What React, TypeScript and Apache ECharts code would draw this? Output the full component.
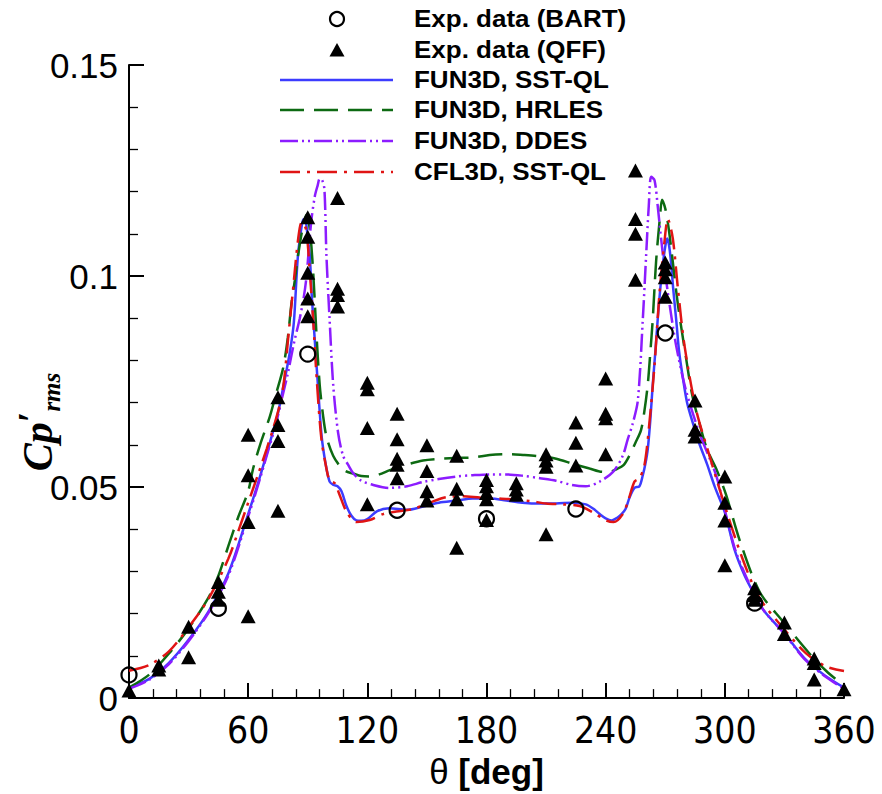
import React, { useEffect, useRef } from "react";
import * as echarts from "echarts";

// ---------- axes ----------
const xTicks = [0, 60, 120, 180, 240, 300, 360];
const yTicks = [0, 0.05, 0.1, 0.15];
const yTickLabels = ["0", "0.05", "0.1", "0.15"];

// ---------- legend names ----------
const nameBart = "Exp. data (BART)";
const nameQff = "Exp. data (QFF)";
const nameSst = "FUN3D, SST-QL";
const nameHrles = "FUN3D, HRLES";
const nameDdes = "FUN3D, DDES";
const nameCfl = "CFL3D, SST-QL";

// ---------- experimental data ----------
const bartTheta = [0, 45, 90, 135, 180, 225, 270, 315];
const bartCp = [0.0055, 0.0213, 0.0815, 0.0445, 0.0425, 0.0448, 0.0865, 0.0225];

const qffTheta = [
  0, 15, 15, 30, 30, 45, 45, 45, 60, 60, 60, 60, 75, 75, 75, 75,
  90, 90, 90, 90, 90, 105, 105, 105, 105, 120, 120, 120, 120,
  135, 135, 135, 135, 135, 150, 150, 150, 150, 165, 165, 165, 165,
  180, 180, 180, 180, 180, 195, 195, 195, 210, 210, 210, 210,
  225, 225, 225, 240, 240, 240, 240, 255, 255, 255, 255,
  270, 270, 270, 270, 285, 285, 285, 300, 300, 300, 300,
  315, 315, 315, 330, 330, 345, 345, 345, 360,
];
const qffCp = [
  0.0018, 0.0077, 0.0068, 0.0097, 0.0169, 0.0275, 0.0252, 0.0233, 0.0194, 0.0417, 0.0528, 0.0624, 0.0444, 0.0609, 0.0647, 0.0713,
  0.0905, 0.0947, 0.1008, 0.1093, 0.1139, 0.1185, 0.097, 0.0955, 0.0928, 0.0747, 0.0732, 0.064, 0.0459,
  0.0674, 0.0613, 0.0567, 0.0553, 0.0521, 0.0599, 0.0538, 0.049, 0.0468, 0.0574, 0.0496, 0.0471, 0.0356,
  0.0517, 0.0502, 0.0486, 0.0471, 0.0422, 0.0509, 0.0494, 0.0482, 0.0578, 0.0563, 0.0548, 0.0388,
  0.0653, 0.0605, 0.0551, 0.0757, 0.0674, 0.0663, 0.0578, 0.125, 0.1135, 0.11, 0.0991,
  0.1032, 0.1016, 0.0997, 0.0951, 0.0705, 0.0636, 0.062, 0.0525, 0.0463, 0.0421, 0.0315,
  0.026, 0.0244, 0.0233, 0.0179, 0.0152, 0.0094, 0.0083, 0.0044, 0.0021,
];

// ---------- FUN3D SST-QL ----------
const sstTheta = [
  0, 10, 20, 30, 40, 50, 60, 65, 70, 75, 78, 81, 83, 85, 87, 88, 89, 90, 91, 92, 93, 95, 97, 99, 101, 103, 105, 107,
  109.5, 112, 114.5, 117, 120, 125, 131, 140, 148, 156, 165, 173, 182, 190, 198, 207, 215, 223, 230, 234, 237, 240,
  243, 246, 248, 250, 252, 254.5, 257, 258.7, 260, 261.2, 262.5, 263.7, 265, 266.2, 267.5, 268.8, 270, 271, 272, 273,
  274, 275.5, 277, 279, 281, 284, 287, 291, 295, 300, 305, 310, 315, 320, 330, 340, 350, 360,
];
const sstCp = [
  0.0025, 0.0045, 0.0083, 0.0138, 0.0205, 0.0295, 0.0436, 0.051, 0.059, 0.0675, 0.0745, 0.082, 0.089, 0.1045, 0.112, 0.1135, 0.113, 0.109, 0.105, 0.0955, 0.0885, 0.075, 0.062, 0.0555, 0.0513, 0.0505, 0.0502, 0.049,
  0.0455, 0.0432, 0.0421, 0.042, 0.0424, 0.0443, 0.045, 0.0446, 0.0454, 0.0463, 0.0468, 0.0473, 0.0473, 0.0468, 0.0463, 0.0461, 0.0461, 0.0463, 0.0459, 0.0448, 0.0436, 0.0426,
  0.0421, 0.0428, 0.0436, 0.0448, 0.0475, 0.0498, 0.0502, 0.0528, 0.0555, 0.059, 0.066, 0.0743, 0.082, 0.0897, 0.097, 0.1028, 0.107, 0.1089, 0.107, 0.1028,
  0.097, 0.0897, 0.082, 0.0755, 0.07, 0.065, 0.0605, 0.0555, 0.05, 0.044, 0.035, 0.029, 0.0245, 0.0205, 0.0153, 0.0095, 0.0055, 0.0025,
];

// ---------- FUN3D HRLES ----------
const hrlesTheta = [
  0, 10, 20, 30, 40, 45, 50, 55, 60, 62.5, 66, 70.9, 74, 77.6, 80, 81.8, 83.5, 85.2, 87.7, 89.4, 91, 92.7, 94.3, 96, 97.7,
  99.4, 102.8, 106, 109, 112.8, 117, 121.2, 126, 131.3, 139.7, 148, 156.4, 164.8, 173.2, 181.6, 190, 198.4, 206.7, 215.1,
  223.5, 231.9, 238.6, 242, 245.3, 249, 252, 255, 257.8, 259.5, 261.2, 262.5, 263.7, 265.4, 267.4, 268.4, 270.1, 271.5,
  273, 276.3, 280.5, 283.5, 287.2, 291, 295.6, 300.6, 307.4, 317.5, 329, 344, 352, 360,
];
const hrlesCp = [
  0.0025, 0.0055, 0.0105, 0.0165, 0.0238, 0.029, 0.036, 0.0429, 0.049, 0.0544, 0.06, 0.0667, 0.072, 0.0782, 0.0855, 0.0935, 0.099, 0.1051, 0.112, 0.1145, 0.1112, 0.1012, 0.087, 0.0743, 0.067,
  0.062, 0.0574, 0.0551, 0.0538, 0.0532, 0.0526, 0.0525, 0.053, 0.054, 0.0553, 0.0563, 0.0567, 0.0569, 0.057, 0.0576, 0.0578, 0.0576, 0.0573, 0.0567,
  0.0555, 0.0544, 0.0536, 0.0536, 0.0542, 0.0552, 0.0575, 0.0605, 0.0635, 0.068, 0.0743, 0.082, 0.0897, 0.1035, 0.1143, 0.1181, 0.1158, 0.112,
  0.1066, 0.0935, 0.0805, 0.072, 0.0651, 0.059, 0.0544, 0.0482, 0.0375, 0.0252, 0.0183, 0.0098, 0.006, 0.003,
];

// ---------- FUN3D DDES ----------
const ddesTheta = [
  0, 10, 20, 30, 40, 50, 60, 65, 70, 74, 77, 80, 83, 86, 88, 89.4, 91.7, 93.6, 95, 96, 97.2, 98.4, 99.4, 101, 102.8,
  105.3, 107.8, 110.3, 113, 117, 123, 131, 140, 148, 156, 165, 173, 182, 190, 198, 207, 215, 223, 230, 237, 243.7,
  248.6, 251.1, 253.6, 256.2, 258.7, 260.4, 261.7, 262.9, 264.6, 266.2, 267.9, 269.6, 272.1, 275.5, 280.5, 287.2,
  295.6, 300, 305, 310, 315, 320, 330, 340, 350, 360,
];
const ddesCp = [
  0.0022, 0.0043, 0.008, 0.0135, 0.0202, 0.029, 0.043, 0.0505, 0.0585, 0.065, 0.071, 0.077, 0.084, 0.09, 0.095, 0.1, 0.1127, 0.119, 0.1215, 0.123, 0.1228, 0.1205, 0.105, 0.0897, 0.0743,
  0.0628, 0.0574, 0.0553, 0.0532, 0.0515, 0.0505, 0.0498, 0.0502, 0.0512, 0.0519, 0.0525, 0.0528, 0.053, 0.053, 0.0527, 0.0521, 0.0515, 0.0505, 0.0502, 0.0513, 0.0536,
  0.0574, 0.0613, 0.065, 0.0705, 0.0897, 0.1051, 0.1166, 0.1235, 0.1227, 0.1166, 0.1089, 0.102, 0.0935, 0.0835, 0.0728, 0.0628,
  0.0528, 0.0445, 0.0355, 0.0295, 0.0245, 0.0205, 0.0152, 0.0093, 0.0053, 0.0022,
];

// ---------- CFL3D SST-QL ----------
const cflTheta = [
  0, 10, 20, 30, 40, 50, 55, 60.9, 65, 69.3, 73, 76, 78, 80.1, 82.7, 85.2, 86.9, 88, 89.4, 91, 92.7, 94.7, 96.9, 99.4,
  101, 103.6, 106, 109.5, 114.5, 121.2, 127.9, 134.6, 143, 151.4, 159.8, 168.2, 176.6, 185, 193.4, 201.7, 210.1, 218.5,
  226.9, 233.6, 240.3, 244, 248.6, 251.5, 254.5, 257, 259.5, 262, 264.6, 267.1, 269.6, 271.3, 273.8, 276.3, 279.7,
  285.6, 292.3, 299, 309, 317.5, 329, 340.9, 350.9, 360,
];
const cflCp = [
  0.0065, 0.0078, 0.011, 0.0168, 0.0235, 0.033, 0.0395, 0.0475, 0.053, 0.059, 0.0645, 0.0697, 0.075, 0.0851, 0.0974, 0.1089, 0.1127, 0.1125, 0.1104, 0.1012, 0.0897, 0.0743, 0.0613, 0.0544,
  0.0516, 0.0509, 0.0482, 0.0442, 0.0417, 0.0422, 0.0436, 0.0442, 0.0448, 0.0463, 0.0476, 0.0478, 0.0475, 0.0473, 0.0471, 0.0467, 0.0461, 0.0459,
  0.0455, 0.044, 0.0421, 0.0417, 0.0436, 0.047, 0.0513, 0.0521, 0.0551, 0.0651, 0.0789, 0.0959, 0.1081, 0.1135, 0.1089, 0.0974, 0.0835,
  0.0682, 0.0574, 0.047, 0.0329, 0.0237, 0.0168, 0.0106, 0.0075, 0.0064,
];

const pairs = (xs: number[], ys: number[]) => xs.map((x, i) => [x, ys[i]]);

const BLUE = "#3c3cff";
const GREEN = "#0d6a12";
const PURPLE = "#8c1cff";
const RED = "#e01414";

const DASH_GREEN = [24, 10];
const DASH_PURPLE = [18, 4, 2, 4, 2, 4];
const DASH_RED = [20, 7, 3, 7];

export default function App() {
  const ref = useRef<HTMLDivElement>(null);

  useEffect(() => {
    if (!ref.current) return;
    const chart = echarts.init(ref.current, undefined, { renderer: "svg" });

    const lineSeries = (name: string, xs: number[], ys: number[], color: string, dash: any) => ({
      name,
      type: "line",
      data: pairs(xs, ys),
      showSymbol: false,
      smooth: 0.3,
      clip: false,
      z: 2,
      lineStyle: { color, width: 2.5, type: dash },
    });

    const legendY = [19, 50, 80, 110, 141, 172];
    const legendNames = [nameBart, nameQff, nameSst, nameHrles, nameDdes, nameCfl];
    const legendLines = [
      { color: BLUE, dash: "solid" },
      { color: GREEN, dash: DASH_GREEN },
      { color: PURPLE, dash: DASH_PURPLE },
      { color: RED, dash: DASH_RED },
    ];

    const graphic: any[] = [];
    graphic.push({
      type: "circle",
      shape: { cx: 337, cy: legendY[0], r: 7 },
      style: { fill: "none", stroke: "#000", lineWidth: 2.2 },
    });
    graphic.push({
      type: "polygon",
      shape: { points: [[329.5, legendY[1] + 6.5], [344.5, legendY[1] + 6.5], [337, legendY[1] - 7]] },
      style: { fill: "#000" },
    });
    legendLines.forEach((l, i) => {
      graphic.push({
        type: "line",
        shape: { x1: 280, y1: legendY[i + 2], x2: 393, y2: legendY[i + 2] },
        style: { stroke: l.color, lineWidth: 2.5, lineDash: l.dash === "solid" ? null : l.dash },
      });
    });
    legendNames.forEach((n, i) => {
      graphic.push({
        type: "text",
        x: 414,
        y: legendY[i],
        scaleX: 1.13,
        style: {
          text: n,
          font: 'bold 23px "Liberation Sans", Arial, sans-serif',
          fill: "#000",
          align: "left",
          verticalAlign: "middle",
        },
      });
    });
    // y-axis title
    graphic.push({
      type: "text",
      x: 38,
      y: 422,
      rotation: Math.PI / 2,
      style: {
        text: "{c|Cp}{p|′}{s|rms}",
        align: "center",
        verticalAlign: "middle",
        rich: {
          c: { fontFamily: '"Liberation Serif", serif', fontStyle: "italic", fontWeight: "bold", fontSize: 42, lineHeight: 52, verticalAlign: "middle", fill: "#000" },
          p: { fontFamily: '"Liberation Serif", serif', fontWeight: "bold", fontSize: 38, lineHeight: 52, verticalAlign: "top", fill: "#000" },
          s: { fontFamily: '"Liberation Serif", serif', fontStyle: "italic", fontWeight: "bold", fontSize: 25, lineHeight: 52, verticalAlign: "bottom", fill: "#000" },
        },
      },
    });

    chart.setOption({
      animation: false,
      backgroundColor: "#ffffff",
      grid: { left: 129, right: 38, top: 65, bottom: 78, containLabel: false },
      xAxis: {
        type: "value",
        min: xTicks[0],
        max: xTicks[xTicks.length - 1],
        interval: 60,
        name: "{t|θ }{b|[deg]}",
        nameLocation: "middle",
        nameGap: 40,
        nameTextStyle: {
          rich: {
            t: { fontFamily: '"Liberation Sans", Arial, sans-serif', fontSize: 35, color: "#000" },
            b: { fontFamily: '"Liberation Sans", Arial, sans-serif', fontSize: 35, fontWeight: "bold", color: "#000" },
          },
        },
        axisLine: { onZero: false, lineStyle: { color: "#000", width: 2 } },
        axisTick: { inside: true, length: 15, lineStyle: { color: "#000", width: 2 } },
        minorTick: { show: true, splitNumber: 5, length: 9, lineStyle: { color: "#000", width: 1.3 } },
        splitLine: { show: false },
        axisLabel: {
          margin: 14,
          fontSize: 37,
          fontFamily: '"Liberation Sans Narrow", "DejaVu Sans Condensed", "Liberation Sans", sans-serif',
          color: "#000",
          formatter: (v: number) => (xTicks.includes(v) ? String(v) : ""),
        },
      },
      yAxis: {
        type: "value",
        min: yTicks[0],
        max: yTicks[yTicks.length - 1],
        interval: 0.05,
        axisLine: { onZero: false, lineStyle: { color: "#000", width: 2 } },
        axisTick: { inside: true, length: 15, lineStyle: { color: "#000", width: 2 } },
        minorTick: { show: true, splitNumber: 5, length: 9, lineStyle: { color: "#000", width: 1.3 } },
        splitLine: { show: false },
        axisLabel: {
          margin: 11,
          fontSize: 35,
          fontFamily: '"Liberation Sans", Arial, sans-serif',
          color: "#000",
          formatter: (v: number) => {
            const i = yTicks.findIndex((t) => Math.abs(t - v) < 1e-9);
            return i >= 0 ? yTickLabels[i] : "";
          },
        },
      },
      graphic,
      series: [
        lineSeries(nameSst, sstTheta, sstCp, BLUE, "solid"),
        lineSeries(nameHrles, hrlesTheta, hrlesCp, GREEN, DASH_GREEN),
        lineSeries(nameDdes, ddesTheta, ddesCp, PURPLE, DASH_PURPLE),
        lineSeries(nameCfl, cflTheta, cflCp, RED, DASH_RED),
        {
          name: nameQff,
          type: "scatter",
          data: pairs(qffTheta, qffCp),
          symbol: "triangle",
          symbolSize: [15, 14],
          clip: false,
          z: 4,
          itemStyle: { color: "#000", opacity: 1 },
        },
        {
          name: nameBart,
          type: "scatter",
          data: pairs(bartTheta, bartCp),
          symbol: "circle",
          symbolSize: 15,
          clip: false,
          z: 5,
          itemStyle: { color: "rgba(0,0,0,0)", borderColor: "#000", borderWidth: 2.2, opacity: 1 },
        },
      ],
    });

    return () => chart.dispose();
  }, []);

  return (
    <div
      ref={ref}
      style={{ position: "absolute", left: 0, top: 0, width: 882, height: 794, background: "#fff" }}
    />
  );
}
